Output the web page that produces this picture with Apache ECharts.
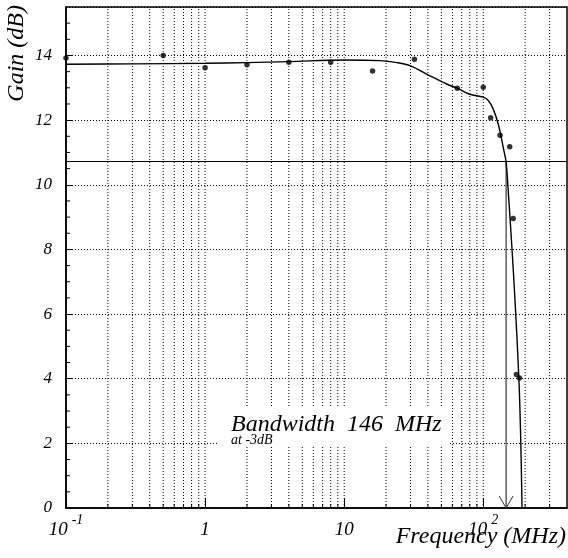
<!DOCTYPE html>
<html>
<head>
<meta charset="utf-8">
<script src="https://cdn.jsdelivr.net/npm/echarts@6/dist/echarts.min.js"></script>
<style>
html,body{margin:0;padding:0;background:#fff;}
#chart{width:568px;height:558px;}
</style>
</head>
<body>
<div id="chart"></div>
<script>
// ---- data ----
const curveFreq = [0.1, 0.3, 1, 2, 4, 10, 18, 24, 30, 41, 55, 65, 80, 100, 109, 118, 129, 140, 146, 152.6, 161, 169, 180.5, 186, 190];
const curveGain = [13.73, 13.74, 13.76, 13.78, 13.81, 13.86, 13.84, 13.78, 13.68, 13.38, 13.11, 12.99, 12.80, 12.71, 12.60, 12.34, 11.83, 11.10, 10.70, 9.55, 8.0, 6.45, 3.97, 2.1, 0];
const pointFreq = [0.1, 0.5, 1, 2, 4, 8, 16, 32, 65, 100, 113, 132, 155, 164, 173, 182];
const pointGain = [13.92, 14.0, 13.62, 13.71, 13.79, 13.79, 13.52, 13.88, 12.99, 13.02, 12.07, 11.53, 11.18, 8.96, 4.13, 4.02];
const bandwidthMHz = 146;
const level3dB = 10.72;
const xTickValues = [0.1, 1, 10, 100];
const xTickBase = ['10', '1', '10', '10'];
const xTickExp = ['-1', '', '', '2'];
const xMin = 0.1, xMax = 400;
const yMin = 0, yMax = 15.5, yStep = 2, yMinorStep = 0.5;

// axis structure (grid line / minor tick positions)
const xGridValues = [];
xTickValues.forEach(d => { for (let m = 1; m <= 9; m++) { const v = +(d * m).toPrecision(6); if (v > xMin && v < xMax) xGridValues.push(v); } });
const yMinorValues = [];
for (let y = yMinorStep; y < yMax; y += yMinorStep) { if (Math.abs(y / yStep - Math.round(y / yStep)) > 1e-6) yMinorValues.push(y); }

const FONT = 'Liberation Serif';
const chart = echarts.init(document.getElementById('chart'), null, {renderer: 'canvas'});

function isPow10(v) { const l = Math.log10(v); return Math.abs(l - Math.round(l)) < 1e-6; }

const option = {
  animation: false,
  backgroundColor: '#fff',
  grid: {left: 66, top: 7, width: 501, height: 501, show: true, borderColor: '#000', borderWidth: 1.5, backgroundColor: 'transparent'},
  xAxis: {
    type: 'log', logBase: 10, min: xMin, max: xMax,
    axisLine: {show: true, onZero: false, lineStyle: {color: '#000', width: 1.5}},
    axisTick: {show: true, inside: true, length: 10, lineStyle: {color: '#000', width: 1}},
    splitLine: {show: false},
    minorTick: {show: false},
    axisLabel: {
      show: true, margin: 5, showMaxLabel: false,
      color: '#000', fontFamily: FONT, fontStyle: 'italic', fontSize: 19,
      formatter: function (v) {
        if (!isPow10(v)) return '';
        const i = xTickValues.findIndex(t => Math.abs(Math.log10(t) - Math.log10(v)) < 1e-6);
        if (i < 0) return '';
        if (xTickExp[i] === '') return '{b|' + xTickBase[i] + '}';
        return '{b|' + xTickBase[i] + '}{s|' + xTickExp[i] + '}';
      },
      rich: {
        b: {fontFamily: FONT, fontStyle: 'italic', fontSize: 19, color: '#000', lineHeight: 34},
        s: {fontFamily: FONT, fontStyle: 'italic', fontSize: 14, color: '#000', lineHeight: 12, verticalAlign: 'top', padding: [0, 0, 0, 4]}
      }
    }
  },
  yAxis: {
    type: 'value', min: yMin, max: yMax, interval: yStep,
    axisLine: {show: true, onZero: false, lineStyle: {color: '#000', width: 1.5}},
    axisTick: {show: true, inside: true, length: 7, lineStyle: {color: '#000', width: 1}},
    splitLine: {show: true, lineStyle: {color: '#000', width: 1, type: [1, 2]}},
    axisLabel: {
      show: true, margin: 14, showMaxLabel: false,
      color: '#000', fontFamily: FONT, fontStyle: 'italic', fontSize: 17
    }
  },
  graphic: [
    {type: 'rect', z: 100, shape: {x: 217, y: 407, width: 231, height: 40}, style: {fill: '#fff'}},
    {type: 'text', z: 101, x: 231, y: 425, style: {text: 'Bandwidth  146  MHz', fill: '#000', font: 'italic 24px "Liberation Serif"', textAlign: 'left', textVerticalAlign: 'middle'}},
    {type: 'text', z: 101, x: 231, y: 440, style: {text: 'at -3dB', fill: '#000', font: 'italic 14px "Liberation Serif"', textAlign: 'left', textVerticalAlign: 'middle'}},
    {type: 'text', z: 101, x: 17, y: 5, rotation: Math.PI / 2, style: {text: 'Gain (dB)', fill: '#000', font: 'italic 24px "Liberation Serif"', textAlign: 'right', textVerticalAlign: 'middle'}},
    {type: 'text', z: 101, x: 566, y: 537, style: {text: 'Frequency (MHz)', fill: '#000', font: 'italic 24px "Liberation Serif"', textAlign: 'right', textVerticalAlign: 'middle'}}
  ],
  series: [
    {
      type: 'custom', name: 'xgrid', z: 1, silent: true,
      data: xGridValues.map(v => [v, yMin]),
      encode: {x: 0, y: 1},
      renderItem: function (params, api) {
        const v = api.value(0);
        const p0 = api.coord([v, yMin]);
        const p1 = api.coord([v, yMax]);
        const children = [{type: 'line', shape: {x1: p0[0], y1: p0[1], x2: p1[0], y2: p1[1]}, style: {stroke: '#000', lineWidth: 1, lineDash: [1, 2]}}];
        if (!isPow10(v)) children.push({type: 'line', shape: {x1: p0[0], y1: p0[1], x2: p0[0], y2: p0[1] - 4}, style: {stroke: '#000', lineWidth: 1}});
        return {type: 'group', children: children};
      }
    },
    {
      type: 'custom', name: 'yminor', z: 2, silent: true,
      data: yMinorValues.map(y => [xMin, y]),
      encode: {x: 0, y: 1},
      renderItem: function (params, api) {
        const p = api.coord([xMin, api.value(1)]);
        return {type: 'line', shape: {x1: p[0], y1: p[1], x2: p[0] + 4, y2: p[1]}, style: {stroke: '#000', lineWidth: 1}};
      }
    },
    {
      type: 'custom', name: 'arrow', z: 3, silent: true,
      data: [[bandwidthMHz, level3dB]],
      encode: {x: 0, y: 1},
      renderItem: function (params, api) {
        const top = api.coord([api.value(0), api.value(1)]);
        const bot = api.coord([api.value(0), yMin]);
        return {type: 'group', children: [
          {type: 'line', shape: {x1: top[0], y1: top[1], x2: bot[0], y2: bot[1]}, style: {stroke: '#444', lineWidth: 1.3}},
          {type: 'polyline', shape: {points: [[bot[0] - 7, bot[1] - 12], [bot[0], bot[1]], [bot[0] + 7, bot[1] - 12]]}, style: {stroke: '#333', lineWidth: 1, fill: null}}
        ]};
      }
    },
    {
      type: 'line', name: 'fit', z: 4,
      data: curveFreq.map((f, i) => [f, curveGain[i]]),
      showSymbol: false, symbol: 'none',
      smooth: 0.35,
      lineStyle: {color: '#000', width: 1.4},
      markLine: {
        silent: true, symbol: ['none', 'none'], label: {show: false},
        lineStyle: {color: '#000', width: 1.2, type: 'solid'},
        data: [{yAxis: level3dB}]
      }
    },
    {
      type: 'scatter', name: 'meas', z: 5,
      data: pointFreq.map((f, i) => [f, pointGain[i]]),
      symbol: 'circle', symbolSize: 5.5,
      itemStyle: {color: '#000'}
    }
  ]
};
chart.setOption(option);
</script>
</body>
</html>
